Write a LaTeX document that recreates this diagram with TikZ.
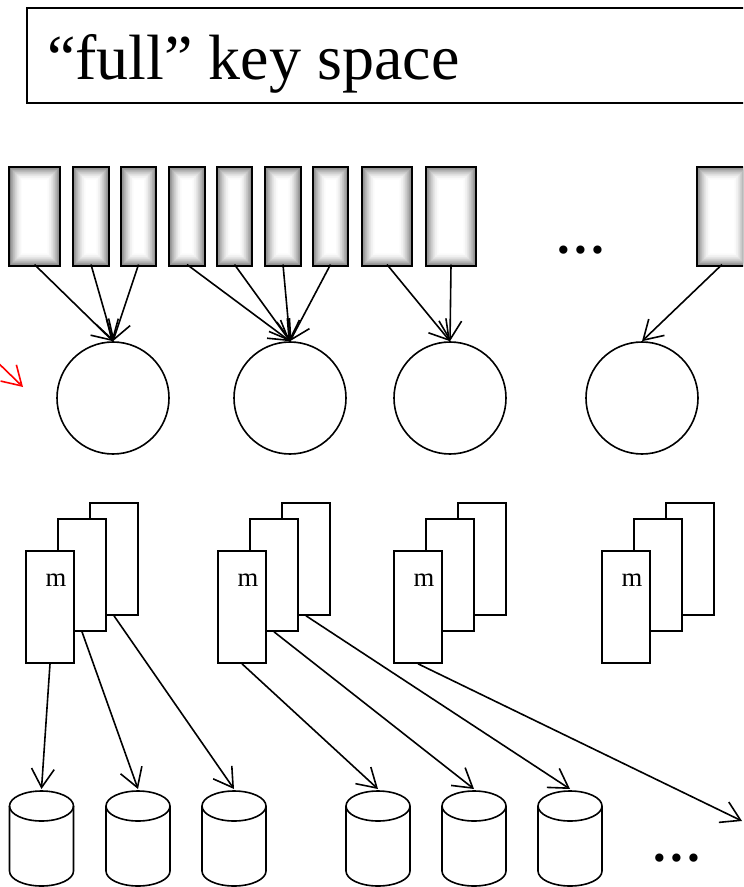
\documentclass[tikz,border=0pt]{standalone}
\usepackage{fontspec}
\setmainfont{Liberation Serif}
\usetikzlibrary{arrows.meta,calc}
\begin{document}
\begin{tikzpicture}[x=0.75pt,y=-0.75pt,
  arr/.style={line width=1.2pt,-{Straight Barb[length=14pt,width=17pt,line width=1.2pt]}},
  keybox/.style={draw,line width=1.8pt,minimum height=74.25pt,inner sep=0pt,
    path picture={
      \foreach \i in {0,...,22}{
        \pgfmathtruncatemacro\shd{max(0,52*(1-\i/22)^2)}
        \fill[black!\shd!white] ([shift={(\i*0.5pt,\i*0.5pt)}]path picture bounding box.south west)
          rectangle ([shift={(-\i*0.5pt,-\i*0.5pt)}]path picture bounding box.north east);
      }}},
  hub/.style={circle,draw,line width=1.2pt,minimum size=84pt,inner sep=0pt},
  page/.style={draw,fill=white,line width=1.2pt,minimum width=36pt,minimum height=84pt,inner sep=0pt},
  cyl/.style={line width=1.2pt},
  dotsty/.style={font=\fontsize{38}{40}\selectfont\bfseries,inner sep=0pt,anchor=base},
  mlab/.style={font=\fontsize{20}{22}\selectfont,inner sep=0pt}]
\useasboundingbox (0,0) rectangle (743,887);
\clip (0,0) rectangle (743,887);

% title
\node[draw,line width=1.3pt,anchor=north west,minimum width=600pt,minimum height=71.25pt,inner sep=0pt] (titlebox) at (26,7) {};
\node[anchor=base west,inner sep=0pt,font=\fontsize{48}{50}\selectfont] (title) at (47,80) {“full” key space};

% key blocks
\foreach \n/\cx/\w in {1/34.5/38pt,2/91/27pt,3/138.5/26.5pt,4/187/27pt,5/234.5/26.5pt,6/283/27pt,7/330.5/26.5pt,8/387/37.5pt,9/451/37.5pt,10/722/37.5pt}{
  \node[keybox,minimum width=\w] (k\n) at (\cx,216.5) {};
}
\node[dotsty] (dtop) at (581,254) {…};

% hubs
\node[hub] (s1) at (113,398) {};
\node[hub] (s2) at (290,398) {};
\node[hub] (s3) at (450,398) {};
\node[hub] (s4) at (642,398) {};

\foreach \k in {1,2,3}{\draw[arr] ([yshift=2pt]k\k.south) -- (s1.north);}
\foreach \k in {4,5,6,7}{\draw[arr] ([yshift=2pt]k\k.south) -- (s2.north);}
\foreach \k in {8,9}{\draw[arr] ([yshift=2pt]k\k.south) -- (s3.north);}
\draw[arr] ([yshift=2pt]k10.south) -- (s4.north);

% red arrow
\coordinate (rs) at (-10,355);
\coordinate (re) at (23,387);
\draw[arr,red] (rs) -- (re);

% page stacks
\foreach \g/\L/\mx in {1/26/56,2/218/248,3/394/424,4/602/632}{
  \node[page] (p\g c) at (\L+88,559) {};
  \node[page] (p\g b) at (\L+56,575) {};
  \node[page] (p\g a) at (\L+24,607) {};
  \node[mlab] (m\g) at (\mx,580) {m};
}

% disks
\foreach \n/\cx in {1/41.5,2/138,3/234,4/378,5/474,6/570}{
  \coordinate (d\n) at (\cx,789);
  \draw[cyl] (\cx,806) ellipse [x radius=32,y radius=15];
  \draw[cyl] (\cx-32,806) -- (\cx-32,871) arc[start angle=180,end angle=0,x radius=32,y radius=15] -- (\cx+32,806);
}
\coordinate (e7) at (742,821);
\node[dotsty] (dbot) at (677,861) {…};

\draw[arr] (p1a.south) -- (d1);
\draw[arr] (p1b.south) -- (d2);
\draw[arr] (p1c.south) -- (d3);
\draw[arr] (p2a.south) -- (d4);
\draw[arr] (p2b.south) -- (d5);
\draw[arr] (p2c.south) -- (d6);
\draw[arr] (p3a.south) -- (e7);
\end{tikzpicture}
\end{document}
